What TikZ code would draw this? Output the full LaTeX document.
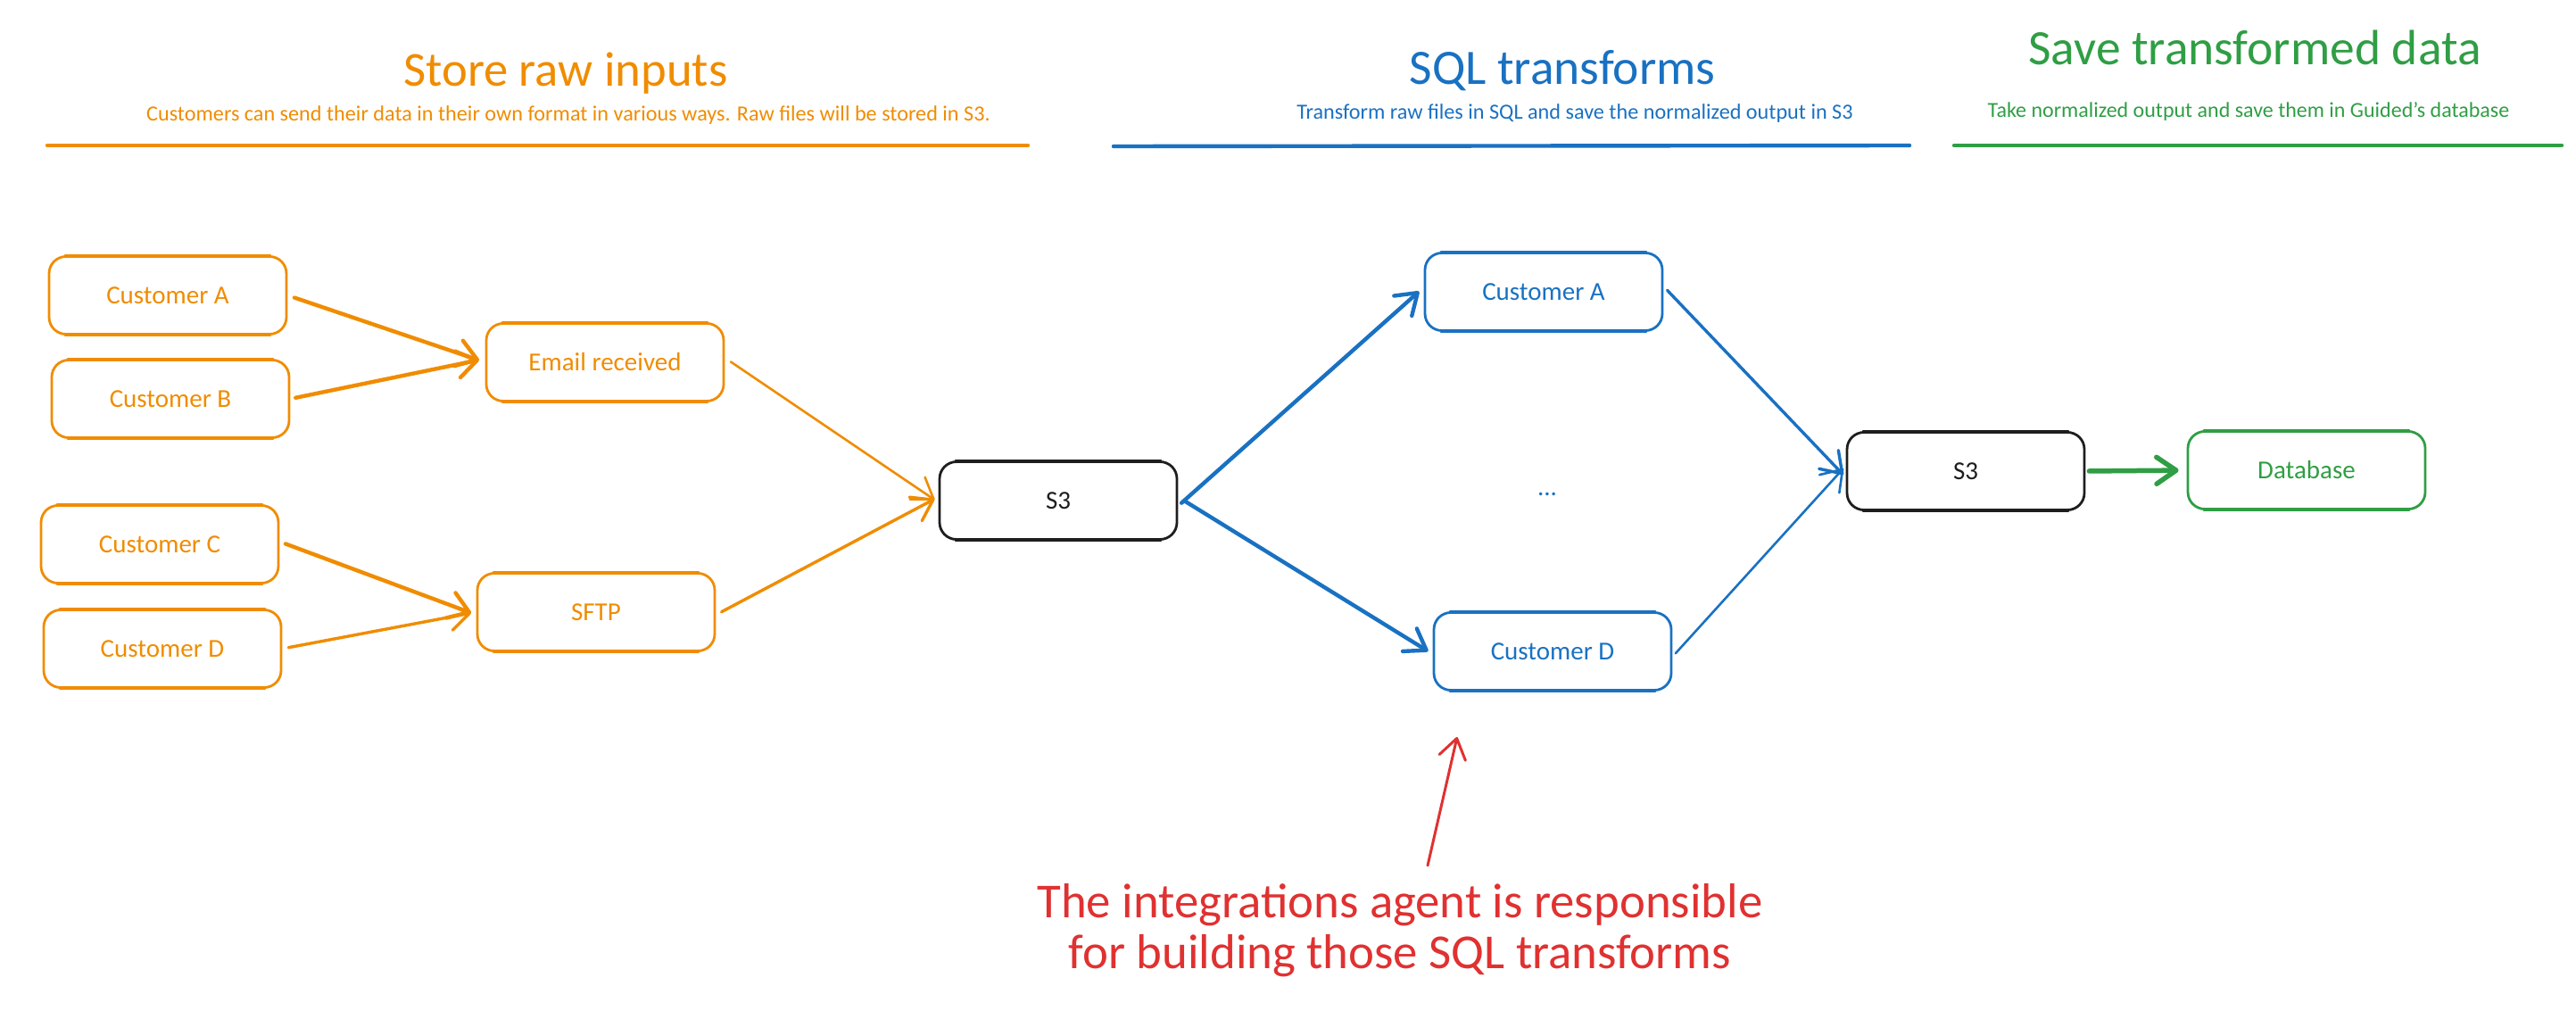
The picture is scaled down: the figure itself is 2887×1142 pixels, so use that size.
\documentclass[tikz,border=0pt]{standalone}
\usepackage{fontspec}
\setmainfont{Carlito}
\usetikzlibrary{arrows.meta,calc}
\definecolor{orangeC}{HTML}{F08C00}
\definecolor{blueC}{HTML}{1971C2}
\definecolor{greenC}{HTML}{2F9E44}
\definecolor{redC}{HTML}{E03131}
\definecolor{blackC}{HTML}{1E1E1E}
\newcommand{\fsz}[1]{\fontsize{#1}{#1}\selectfont}
\tikzset{
  sbox/.style={draw=#1,text=#1,rounded corners=19pt,line width=2.8pt,
    minimum width=266pt,minimum height=87pt,inner sep=0pt,font=\fsz{29},
    append after command={\pgfextra{\let\LN\tikzlastnode
      \draw[#1,line width=4pt,line cap=round]
        ($(\LN.north west)+(20,0.5)$) -- ($(\LN.north east)+(-20,0.5)$)
        ($(\LN.south west)+(20,-0.5)$) -- ($(\LN.south east)+(-20,-0.5)$);
    }}},
  head/.style={draw=#1,line width=4.4pt,line cap=round},
  conn/.style={draw=#1,line cap=round,line join=round,
    -{Straight Barb[length=22pt,width=30pt,round]}},
  thick conn/.style={conn=#1,line width=4.4pt},
  mid conn/.style={conn=#1,line width=3.4pt},
  thin conn/.style={conn=#1,line width=2.6pt},
  title/.style={text=#1,font=\fsz{55.5},inner sep=0pt},
  subtitle/.style={text=#1,font=\fsz{24.2},inner sep=0pt},
}
\begin{document}
\begin{tikzpicture}[x=1pt,y=-1pt]
\useasboundingbox (0,0) rectangle (2887,1142);
% headers
\node[title=orangeC,font=\fsz{54.7}] (t1) at (634,82) {Store raw inputs};
\node[subtitle=orangeC] (s1) at (637,129) {Customers can send their data in their own format in various ways. Raw files will be stored in S3.};
\coordinate (l1a) at (53,163); \coordinate (l1b) at (1152,163);
\draw[head=orangeC] (l1a) -- (l1b);
\node[title=blueC] (t2) at (1751,79) {SQL transforms};
\node[subtitle=blueC] (s2) at (1765,127) {Transform raw files in SQL and save the normalized output in S3};
\coordinate (l2a) at (1248,164); \coordinate (l2b) at (2140,163);
\draw[head=blueC] (l2a) -- (l2b);
\node[title=greenC] (t3) at (2527,53) {Save transformed data};
\node[subtitle=greenC,font=\fsz{24}] (s3) at (2520,125) {Take normalized output and save them in Guided's database};
\coordinate (l3a) at (2190,163); \coordinate (l3b) at (2871,163);
\draw[head=greenC] (l3a) -- (l3b);
% orange boxes
\node[sbox=orangeC] (ca) at (188,331) {Customer A};
\node[sbox=orangeC] (cb) at (191,447) {Customer B};
\node[sbox=orangeC] (em) at (678,406) {Email received};
\node[sbox=orangeC] (cc) at (179,610) {Customer C};
\node[sbox=orangeC] (cd) at (182,727) {Customer D};
\node[sbox=orangeC] (sf) at (668,686) {SFTP};
% S3 and blue boxes
\node[sbox=blackC] (s3a) at (1186,561) {S3};
\node[sbox=blueC] (ba) at (1730,327) {Customer A};
\node[sbox=blueC] (bd) at (1740,730) {Customer D};
\node[text=blueC,font=\fsz{29},inner sep=0pt] (dots) at (1734,554) {...};
\node[sbox=blackC] (s3b) at (2203,528) {S3};
\node[sbox=greenC] (db) at (2585,527) {Database};
% connectors
\draw[thick conn=orangeC,shorten <=8pt,shorten >=7pt] (ca.east) -- (em.west);
\draw[thick conn=orangeC,shorten <=6pt,shorten >=7pt] (cb.east) -- ([yshift=4pt]em.west);
\draw[thin conn=orangeC,shorten <=8pt,shorten >=5pt] ([yshift=5pt]em.east) -- ([yshift=-2pt]s3a.west);
\draw[thick conn=orangeC,shorten <=7pt,shorten >=6pt] ([yshift=3pt]cc.east) -- ([yshift=-3pt]sf.west);
\draw[mid conn=orangeC,shorten <=7pt,shorten >=6pt] (cd.east) -- (sf.west);
\draw[mid conn=orangeC,shorten <=7pt,shorten >=5pt] ([yshift=-3pt]sf.east) -- ([yshift=4pt]s3a.west);
\draw[thick conn=blueC,shorten <=5pt,shorten >=7pt] ([yshift=-6pt]s3a.east) -- ([yshift=5pt]ba.west);
\draw[thick conn=blueC,shorten <=8pt,shorten >=6pt] ([yshift=4pt]s3a.east) -- ([yshift=-3pt]bd.west);
\draw[mid conn=blueC,shorten <=6pt,shorten >=4pt] ([yshift=6pt]ba.east) -- ([yshift=-7pt]s3b.west);
\draw[thin conn=blueC,shorten <=5pt,shorten >=4pt] ([yshift=-6pt]bd.east) -- ([yshift=6pt]s3b.west);
\draw[thick conn=greenC,line width=5.5pt,shorten <=4pt,shorten >=9pt] (s3b.east) -- (db.west);
% annotation
\node[text=redC,font=\fsz{54.8},align=center,inner sep=0pt] (note) at (1569,1043) {The integrations agent is responsible\\[2pt]for building those SQL transforms};
\coordinate (na) at (1600,970); \coordinate (nb) at (1633,826);
\draw[thin conn=redC,line width=3pt] (na) -- (nb);
\end{tikzpicture}
\end{document}
